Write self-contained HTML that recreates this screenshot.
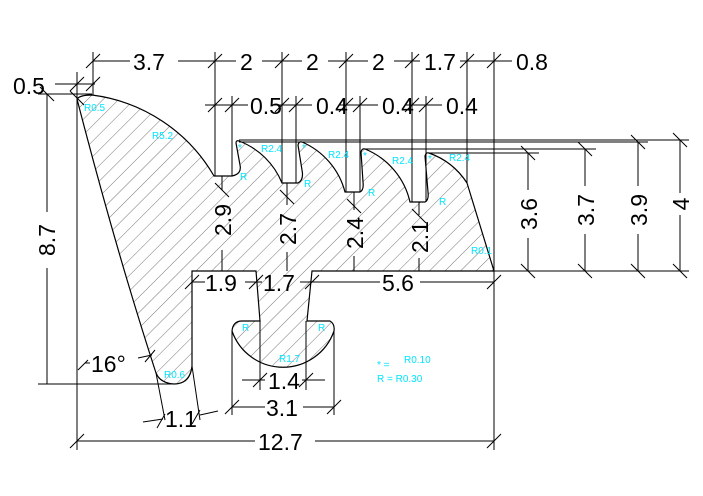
<!DOCTYPE html>
<html><head><meta charset="utf-8"><style>
html,body{margin:0;padding:0;background:#fff;}
svg{display:block}
text{font-family:"Liberation Sans",sans-serif;}
.d{font-size:23px;fill:#000;font-weight:normal}
.c{font-size:10px;fill:#00e5ff}
</style></head><body>
<svg width="703" height="496" viewBox="0 0 703 496" xmlns="http://www.w3.org/2000/svg">
<defs>
<pattern id="h" patternUnits="userSpaceOnUse" width="11" height="11" patternTransform="rotate(45)">
<line x1="0" y1="0" x2="0" y2="11" stroke="#777" stroke-width="1"/>
</pattern>
<clipPath id="cp"><path id="pp" d="M77,99 Q80,95 92,95 A165,165 0 0 1 214,176 L232,176 Q242,174 240,165 L236,143 Q236,140 239,141 A75,75 0 0 1 282,183 L298,183 Q304,180 302,170 L298,145 Q299,141 302,142 A75,75 0 0 1 345,192 L360,192 Q364,190 363,182 L361,152 Q362,148 365,149 A75,75 0 0 1 410,202 L425,202 Q429,200 428,192 L425,156 Q426,152 429,153 A75,75 0 0 1 467,183 L494,271 L312,271 L307,321 L330,321 Q335,324 334,331 A54,54 0 0 1 232,331 Q233,321 242,321 L260,321 L256,271 L192,271 L192,366 Q190,384 174,384 Q160,383 156,373 Q116,250 77,99 Z"/></clipPath>
</defs>
<rect x="60" y="90" width="450" height="300" fill="url(#h)" clip-path="url(#cp)"/>
<use href="#pp" fill="none" stroke="#000" stroke-width="1.2"/>
<g stroke="#000" stroke-width="1" fill="none">
<line x1="93" y1="61" x2="130" y2="61"/><line x1="178" y1="61" x2="236" y2="61"/><line x1="262" y1="61" x2="302" y2="61"/><line x1="328" y1="61" x2="368" y2="61"/><line x1="394" y1="61" x2="420" y2="61"/><line x1="460" y1="61" x2="512" y2="61"/>
<line x1="93" y1="52" x2="93" y2="95"/><line x1="215" y1="52" x2="215" y2="176"/><line x1="282" y1="52" x2="282" y2="183"/><line x1="346" y1="52" x2="346" y2="192"/><line x1="412" y1="52" x2="412" y2="202"/><line x1="467" y1="52" x2="467" y2="183"/><line x1="494" y1="52" x2="494" y2="450"/>
<line x1="205" y1="105" x2="248" y2="105"/><line x1="272" y1="105" x2="312" y2="105"/><line x1="340" y1="105" x2="378" y2="105"/><line x1="405" y1="105" x2="442" y2="105"/>
<line x1="232" y1="96" x2="232" y2="176"/><line x1="296" y1="96" x2="296" y2="183"/><line x1="360" y1="96" x2="360" y2="192"/><line x1="426" y1="96" x2="426" y2="202"/>
<line x1="55" y1="84" x2="95" y2="84"/><line x1="77" y1="72" x2="77" y2="450"/>
<line x1="38" y1="94" x2="92" y2="94"/><line x1="47" y1="94" x2="47" y2="212"/><line x1="47" y1="268" x2="47" y2="384"/><line x1="38" y1="384" x2="175" y2="384"/>
<line x1="239" y1="140" x2="689" y2="140"/><line x1="239" y1="142" x2="648" y2="142"/><line x1="365" y1="149" x2="596" y2="149"/><line x1="429" y1="153" x2="539" y2="153"/><line x1="494" y1="271" x2="689" y2="271"/>
<line x1="528" y1="153" x2="528" y2="190"/><line x1="528" y1="238" x2="528" y2="271"/>
<line x1="585" y1="149" x2="585" y2="186"/><line x1="585" y1="234" x2="585" y2="271"/>
<line x1="638" y1="142" x2="638" y2="186"/><line x1="638" y1="234" x2="638" y2="271"/>
<line x1="680" y1="140" x2="680" y2="193"/><line x1="680" y1="215" x2="680" y2="271"/>
<line x1="222" y1="176" x2="222" y2="190"/><line x1="222" y1="250" x2="222" y2="271"/>
<line x1="287" y1="183" x2="287" y2="205"/><line x1="287" y1="252" x2="287" y2="271"/>
<line x1="354" y1="192" x2="354" y2="210"/><line x1="354" y1="256" x2="354" y2="271"/>
<line x1="419" y1="202" x2="419" y2="215"/><line x1="419" y1="258" x2="419" y2="271"/>
<line x1="192" y1="282" x2="205" y2="282"/><line x1="245" y1="282" x2="262" y2="282"/><line x1="300" y1="282" x2="380" y2="282"/><line x1="420" y1="282" x2="494" y2="282"/>
<line x1="260" y1="321" x2="260" y2="390"/><line x1="306" y1="321" x2="306" y2="390"/><line x1="242" y1="380" x2="265" y2="380"/><line x1="302" y1="380" x2="325" y2="380"/>
<line x1="232" y1="331" x2="232" y2="415"/><line x1="334" y1="331" x2="334" y2="415"/><line x1="232" y1="407" x2="265" y2="407"/><line x1="303" y1="407" x2="334" y2="407"/>
<line x1="77" y1="441" x2="255" y2="441"/><line x1="315" y1="441" x2="494" y2="441"/>
<line x1="85" y1="363" x2="90" y2="363"/><line x1="138" y1="358" x2="152" y2="355"/>
<line x1="156" y1="373" x2="165" y2="420"/><line x1="192" y1="366" x2="200" y2="420"/>
<line x1="143" y1="422" x2="163" y2="419"/><line x1="200" y1="415" x2="218" y2="411"/>
</g>
<g stroke="#000" stroke-width="1">
<path d="M86,68l14,-14M208,68l14,-14M275,68l14,-14M339,68l14,-14M405,68l14,-14M460,68l14,-14M487,68l14,-14
M208,112l14,-14M225,112l14,-14M275,112l14,-14M289,112l14,-14M339,112l14,-14M353,112l14,-14M405,112l14,-14M419,112l14,-14
M70,91l14,-14M86,91l14,-14M40,87l14,14M70,91l14,14
M521,146l14,14M578,142l14,14M631,135l14,14M673,133l14,14M521,264l14,14M578,264l14,14M631,264l14,14M673,264l14,14
M215,183l14,14M280,190l14,14M347,199l14,14M412,209l14,14
M185,289l14,-14M249,289l14,-14M305,289l14,-14M487,289l14,-14
M253,387l14,-14M299,387l14,-14M225,414l14,-14M327,414l14,-14M70,448l14,-14M487,448l14,-14
M78,370l10,-10M145,362l10,-12M157,428l8,-14M192,424l8,-14"/>
</g>
<g class="d">
<text x="133" y="70">3.7</text><text x="240" y="70">2</text><text x="306" y="70">2</text><text x="372" y="70">2</text><text x="424" y="70">1.7</text><text x="516" y="70">0.8</text>
<text x="250" y="114">0.5</text><text x="316" y="114">0.4</text><text x="382" y="114">0.4</text><text x="446" y="114">0.4</text>
<text x="13" y="94">0.5</text>
<text x="205" y="291">1.9</text><text x="263" y="291">1.7</text><text x="382" y="291">5.6</text>
<text x="268" y="389">1.4</text><text x="266" y="416">3.1</text><text x="258" y="450">12.7</text>
<text x="91" y="372">16°</text><text x="165" y="427">1.1</text>
<text transform="translate(55,240) rotate(-90)" text-anchor="middle">8.7</text>
<text transform="translate(537,214) rotate(-90)" text-anchor="middle">3.6</text>
<text transform="translate(594,210) rotate(-90)" text-anchor="middle">3.7</text>
<text transform="translate(647,210) rotate(-90)" text-anchor="middle">3.9</text>
<text transform="translate(689,204) rotate(-90)" text-anchor="middle">4</text>
<text transform="translate(231,220) rotate(-90)" text-anchor="middle">2.9</text>
<text transform="translate(296,229) rotate(-90)" text-anchor="middle">2.7</text>
<text transform="translate(363,233) rotate(-90)" text-anchor="middle">2.4</text>
<text transform="translate(428,237) rotate(-90)" text-anchor="middle">2.1</text>
</g>
<g class="c">
<text x="84" y="111">R0.5</text><text x="152" y="139">R5.2</text>
<text x="261" y="152">R2.4</text><text x="328" y="158">R2.4</text><text x="392" y="164">R2.4</text><text x="449" y="161">R2.4</text>
<text x="238" y="151">*</text><text x="302" y="151">*</text><text x="363" y="159">*</text><text x="428" y="162">*</text>
<text x="240" y="180">R</text><text x="304" y="187">R</text><text x="368" y="196">R</text><text x="439" y="205">R</text>
<text x="471" y="254">R0.1</text><text x="164" y="378">R0.6</text>
<text x="242" y="331">R</text><text x="318" y="331">R</text><text x="279" y="362">R1.7</text>
<text x="377" y="368">*  =</text><text x="404" y="363">R0.10</text><text x="377" y="382">R  =  R0.30</text>
</g>
</svg>
</body></html>
